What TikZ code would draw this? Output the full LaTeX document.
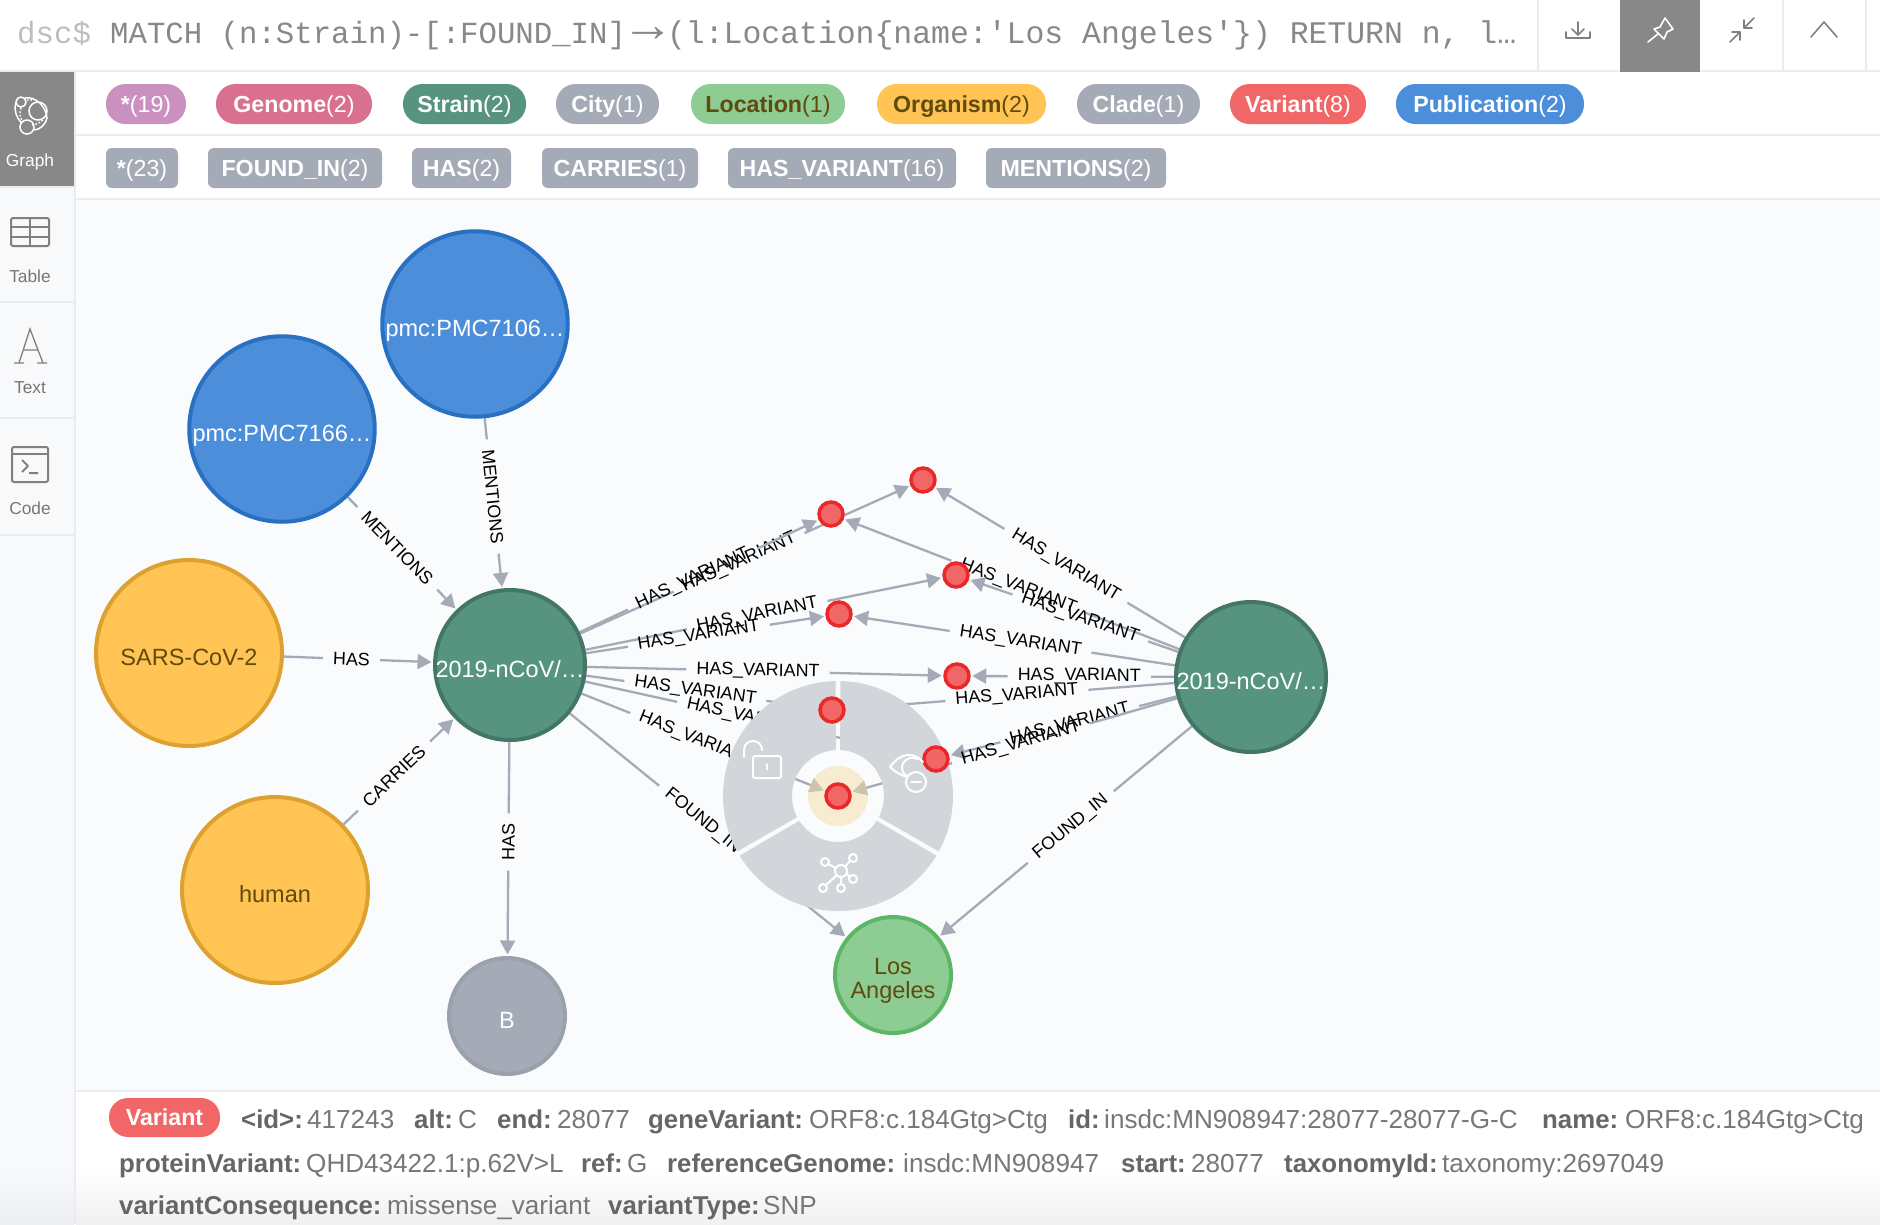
\documentclass[tikz,border=0pt]{standalone}
\usepackage{fontspec}
\setmainfont{Liberation Sans}
\newfontfamily\monof{Liberation Mono}
\usetikzlibrary{arrows.meta}
\pgfdeclarelayer{panel}
\pgfdeclarelayer{edgelayer}
\pgfdeclarelayer{menulayer}
\pgfsetlayers{panel,edgelayer,menulayer,main}
\definecolor{pane}{HTML}{FAFBFD}
\definecolor{rule}{HTML}{E9ECF1}
\definecolor{side}{HTML}{F8F9FB}
\definecolor{sideend}{HTML}{EDEEF1}
\definecolor{panelend}{HTML}{F0F0F0}
\definecolor{active}{HTML}{888888}
\definecolor{prompttext}{HTML}{BDBEC3}
\definecolor{querytext}{HTML}{888888}
\definecolor{highlight}{HTML}{F5DEA5}
\definecolor{edgegrey}{HTML}{A5ABB6}
\definecolor{greystroke}{HTML}{9AA1AC}
\definecolor{pubfill}{HTML}{4C8EDA}
\definecolor{pubstroke}{HTML}{2870C2}
\definecolor{strainfill}{HTML}{569480}
\definecolor{strainstroke}{HTML}{447666}
\definecolor{orgfill}{HTML}{FFC454}
\definecolor{orgstroke}{HTML}{DCA12E}
\definecolor{locfill}{HTML}{8DCC93}
\definecolor{locstroke}{HTML}{5DB665}
\definecolor{varfill}{HTML}{F16667}
\definecolor{varstroke}{HTML}{EB2728}
\definecolor{browntext}{HTML}{604A0E}
\definecolor{anyfill}{HTML}{C990C0}
\definecolor{genomefill}{HTML}{D9708F}
\definecolor{menugrey}{HTML}{D2D5DA}
\definecolor{valtext}{HTML}{777777}
\definecolor{keytext}{HTML}{666666}
\definecolor{iconshade}{HTML}{808080}
\newcommand{\fs}[1]{\fontsize{#1}{#1}\selectfont}
\tikzset{
  bignode/.style={circle,inner sep=0pt,line width=4pt,font=\fs{23.5},text height=24pt,text depth=0pt},
  pubnode/.style={bignode,minimum size=185.5pt,fill=pubfill,draw=pubstroke,text=white},
  orgnode/.style={bignode,minimum size=186pt,fill=orgfill,draw=orgstroke,text=browntext},
  strainnode/.style={bignode,minimum size=150pt,fill=strainfill,draw=strainstroke,text=white},
  smallnode/.style={bignode,minimum size=116pt},
  varnode/.style={circle,inner sep=0pt,minimum size=24pt,line width=3.5pt,fill=varfill,draw=varstroke},
  edgelab/.style={inner xsep=10pt,inner ysep=1pt,font=\fs{17.9},text=black},
  edgeline/.style={draw=edgegrey,line width=2.3pt},
  arrowend/.style={-{Triangle[length=14pt,width=15pt,color=edgegrey]},shorten >=1.5pt},
  pillbase/.style={inner sep=0pt,minimum height=40pt,font=\fs{23.2},text height=17pt,text depth=0pt},
  labelpill/.style={pillbase,rounded corners=19.5pt},
  typepill/.style={pillbase,rounded corners=6pt,fill=edgegrey,text=white},
  menuicon/.style={draw=white,line width=2pt,line cap=round,line join=round},
  sideicon/.style={draw=iconshade,line width=2pt,line join=round},
  topicon/.style={draw=iconshade,line width=1.6pt,line cap=round,line join=round},
  sidetext/.style={inner sep=0pt,font=\fs{17.3},text=valtext},
  kvtext/.style={inner sep=0pt,anchor=base west}
}
\newcommand{\relation}[5]{%
  \path (#1) -- node[edgelab,sloped,pos=#3] (#5) {#4} (#2);
  \draw[edgeline] (#1) -- (#5);
  \draw[edgeline,arrowend] (#5) -- (#2);
}
\newcommand{\pill}[8]{% style, name, x1, x2, y, colours, bold, count
  \node[#1,#6,minimum width={(#4-#3)*1pt}] (#2) at ({(#3+#4)/2},#5) {\textbf{#7}#8};
}
\newcommand{\kv}[6]{% name, keyx, valx, y, key, value
  \node[kvtext,font=\fs{25.8},text=keytext] (#1k) at (#2,#4) {\textbf{#5}};
  \node[kvtext,font=\fs{26.1},text=valtext] (#1v) at (#3,#4) {#6};
}
\begin{document}
\begin{tikzpicture}[x=1pt,y=-1pt]
\useasboundingbox (0,0) rectangle (1880,1224);
\begin{pgfonlayer}{panel}
  \fill[white] (0,0) rectangle (1880,1224);
  \fill[pane] (76,199) rectangle (1880,1091);
  \fill[side] (0,72) rectangle (74,1170);
  \shade[top color=side,bottom color=sideend] (0,1170) rectangle (74,1224);
  \shade[top color=white,bottom color=panelend] (76,1170) rectangle (1880,1224);
  \fill[rule] (0,70) rectangle (1880,72);
  \fill[rule] (76,134) rectangle (1880,136);
  \fill[rule] (76,198) rectangle (1880,200);
  \fill[rule] (76,1090) rectangle (1880,1092);
  \fill[rule] (74,72) rectangle (76,1224);
  \fill[rule] (0,186) rectangle (74,188);
  \fill[rule] (0,301) rectangle (74,303);
  \fill[rule] (0,417) rectangle (74,419);
  \fill[rule] (0,534) rectangle (74,536);
  \fill[active] (0,72) rectangle (74,186);
  \fill[rule] (1537,0) rectangle (1539,70);
  \fill[rule] (1782,0) rectangle (1784,70);
  \fill[rule] (1865,0) rectangle (1867,70);
  \fill[active] (1620,0) rectangle (1700,72);
\end{pgfonlayer}

% query bar
\node[inner sep=0pt,anchor=base west,font=\monof\fs{30.8},text=prompttext] (prompt) at (17,43) {dsc\$};
\node[inner sep=0pt,anchor=base west,font=\monof\fs{30.7},text=querytext] (query) at (110,43)
  {MATCH (n:Strain)-[:FOUND\_IN]\makebox[41pt]{\hspace{3pt}\raisebox{2pt}{\scalebox{1.7}[1.6]{→}}}{\fs{31.45}(l:Location\{name:'Los Angeles'\}) RETURN n, l…}};

% top icons
\draw[topicon] (1578,22) -- (1578,35) (1572,29) -- (1578,35) -- (1584,29) (1566,32) -- (1566,38) -- (1590,38) -- (1590,32);
\draw[draw=white,line width=1.6pt,line join=round,line cap=round] (1665,18) -- (1673,29) -- (1667,32) -- (1664,39) -- (1654,29) -- (1660,27) -- cycle (1658,34) -- (1648,42);
\draw[topicon] (1754,18) -- (1744,28) (1744,20) -- (1744,28) -- (1752,28) (1730,42) -- (1740,32) (1732,32) -- (1740,32) -- (1740,40);
\draw[topicon] (1811,37) -- (1824,22) -- (1837,37);

% sidebar
\node[sidetext,text=white] (tabgraph) at (30,162) {Graph};
\node[sidetext] (tabtable) at (30,276) {Table};
\node[sidetext] (tabtext) at (30,388) {Text};
\node[sidetext] (tabcode) at (30,508) {Code};
\draw[draw=white,line width=1.5pt] (38,111) circle[radius=9] (21,102) circle[radius=5] (27,127) circle[radius=7];
\draw[draw=white,line width=1.5pt] (25,98) .. controls (35,96) and (46,106) .. (47,118) .. controls (46,124) and (40,130) .. (34,130)
  (22,123) .. controls (16,118) and (13,108) .. (17,100);
\draw[draw=white,line width=1.5pt,dotted] (21,108) .. controls (19,114) and (20,118) .. (23,121) (27,100) .. controls (30,99) and (32,100) .. (33,101) (32,125) .. controls (38,124) and (41,122) .. (44,119);
\draw[sideicon,rounded corners=2pt] (11,218) rectangle (49,246);
\draw[sideicon] (11,227) -- (49,227) (11,237) -- (49,237) (30,218) -- (30,246);
\draw[draw=iconshade,line width=1.3pt] (19,363) -- (30,329) -- (43,363) (23,350) -- (38,350) (14,363) -- (24,363) (37,363) -- (47,363);
\draw[sideicon,rounded corners=2pt] (12,447) rectangle (48,482);
\draw[sideicon] (12,454) -- (48,454);
\draw[sideicon] (22,460) -- (28,466) -- (22,472) (29,473) -- (38,473);

% filter pills
\pill{labelpill}{pAny}{106}{186}{104}{fill=anyfill,text=white}{*}{(19)}
\pill{labelpill}{pGenome}{216}{372}{104}{fill=genomefill,text=white}{Genome}{(2)}
\pill{labelpill}{pStrain}{403}{526}{104}{fill=strainfill,text=white}{Strain}{(2)}
\pill{labelpill}{pCity}{556}{659}{104}{fill=edgegrey,text=white}{City}{(1)}
\pill{labelpill}{pLocation}{691}{845}{104}{fill=locfill,text=browntext}{Location}{(1)}
\pill{labelpill}{pOrganism}{877}{1046}{104}{fill=orgfill,text=browntext}{Organism}{(2)}
\pill{labelpill}{pClade}{1077}{1200}{104}{fill=edgegrey,text=white}{Clade}{(1)}
\pill{labelpill}{pVariant}{1230}{1366}{104}{fill=varfill,text=white}{Variant}{(8)}
\pill{labelpill}{pPub}{1396}{1584}{104}{fill=pubfill,text=white}{Publication}{(2)}
\pill{typepill}{tAny}{106}{178}{168}{}{*}{(23)}
\pill{typepill}{tFound}{208}{382}{168}{}{FOUND\_IN}{(2)}
\pill{typepill}{tHas}{412}{511}{168}{}{HAS}{(2)}
\pill{typepill}{tCarries}{542}{698}{168}{}{CARRIES}{(1)}
\pill{typepill}{tVariant}{728}{956}{168}{}{HAS\_VARIANT}{(16)}
\pill{typepill}{tMentions}{986}{1166}{168}{}{MENTIONS}{(2)}

% graph nodes
\node[pubnode] (pmcA) at (475,324) {\makebox[0pt][c]{pmc:PMC7106…}};
\node[pubnode] (pmcB) at (282,429) {\makebox[0pt][c]{pmc:PMC7166…}};
\node[orgnode] (sars) at (189,653) {SARS-CoV-2};
\node[orgnode] (human) at (275,890) {human};
\node[strainnode] (strainL) at (510,665) {\makebox[0pt][c]{2019-nCoV/…}};
\node[strainnode] (strainR) at (1251,677) {\makebox[0pt][c]{2019-nCoV/…}};
\node[smallnode,fill=edgegrey,draw=greystroke,text=white] (clade) at (507,1016) {B};
\node[circle,inner sep=0pt,line width=4pt,font=\fs{23.5},minimum size=116pt,fill=locfill,draw=locstroke,text=browntext] (la) at (893,975) {\raisebox{-23pt}[0pt][0pt]{\shortstack{Los\\[3pt]Angeles}}};
\node[varnode] (v1) at (923,480) {};
\node[varnode] (v2) at (831,514) {};
\node[varnode] (v3) at (956,575) {};
\node[varnode] (v4) at (839,614) {};
\node[varnode] (v5) at (957,676) {};
\node[varnode] (v6) at (832,710) {};
\node[varnode] (v7) at (936,759) {};
\node[varnode] (v8) at (838,796) {};

% relationships
\begin{pgfonlayer}{edgelayer}
  \relation{pmcA}{strainL}{.46}{MENTIONS}{e1}
  \relation{pmcB}{strainL}{.455}{MENTIONS}{e2}
  \relation{sars}{strainL}{.453}{HAS}{e3}
  \relation{human}{strainL}{.455}{CARRIES}{e4}
  \relation{strainL}{clade}{.467}{HAS}{e5}
  \relation{strainL}{la}{.48}{FOUND\_IN}{e6}
  \relation{strainR}{la}{.479}{FOUND\_IN}{e7}
  \relation{strainL}{v1}{.481}{HAS\_VARIANT}{l1}
  \relation{strainL}{v2}{.473}{HAS\_VARIANT}{l2}
  \relation{strainL}{v3}{.481}{HAS\_VARIANT}{l3}
  \relation{strainL}{v4}{.471}{HAS\_VARIANT}{l4}
  \relation{strainL}{v5}{.48}{HAS\_VARIANT}{l5}
  \relation{strainL}{v6}{.47}{HAS\_VARIANT}{l6}
  \relation{strainL}{v7}{.48}{HAS\_VARIANT}{l7}
  \relation{strainL}{v8}{.473}{HAS\_VARIANT}{l8}
  \relation{strainR}{v1}{.476}{HAS\_VARIANT}{r1}
  \relation{strainR}{v2}{.48}{HAS\_VARIANT}{r2}
  \relation{strainR}{v3}{.468}{HAS\_VARIANT}{r3}
  \relation{strainR}{v4}{.479}{HAS\_VARIANT}{r4}
  \relation{strainR}{v5}{.466}{HAS\_VARIANT}{r5}
  \relation{strainR}{v6}{.479}{HAS\_VARIANT}{r6}
  \relation{strainR}{v7}{.47}{HAS\_VARIANT}{r7}
  \relation{strainR}{v8}{.479}{HAS\_VARIANT}{r8}
\end{pgfonlayer}

% radial menu
\begin{pgfonlayer}{menulayer}
  \begin{scope}[shift={(838,796)},x=1pt,y=1pt]
    \fill[menugrey] (91.2:115) arc[start angle=91.2,end angle=208.8,radius=115] -- (207.4:46) arc[start angle=207.4,end angle=92.6,radius=46] -- cycle;
    \fill[menugrey] (211.2:115) arc[start angle=211.2,end angle=328.8,radius=115] -- (327.4:46) arc[start angle=327.4,end angle=212.6,radius=46] -- cycle;
    \fill[menugrey] (331.2:115) arc[start angle=331.2,end angle=448.8,radius=115] -- (447.4:46) arc[start angle=447.4,end angle=332.6,radius=46] -- cycle;
    \fill[highlight,opacity=.5] (0,0) circle[radius=30];
  \end{scope}
\end{pgfonlayer}

% menu icons
\draw[menuicon,rounded corners=2pt] (753,756) rectangle (781,778);
\draw[menuicon] (767,764) -- (767,769);
\draw[menuicon] (744,757) -- (744,750) .. controls (744,738) and (762,738) .. (762,750);
\draw[menuicon] (923,762) .. controls (913,751) and (900,753) .. (890,767) .. controls (895,772) and (901,775) .. (907,777);
\draw[menuicon] (917,759) .. controls (909,755) and (901,762) .. (902,769) .. controls (903,773) and (905,775) .. (907,776);
\draw[menuicon] (916,782) circle[radius=10];
\draw[menuicon] (911,782) -- (921,782);
\draw[menuicon] (841,871) circle[radius=6];
\draw[menuicon] (825,862) circle[radius=4] (853,858) circle[radius=4] (853,879) circle[radius=4] (841,888) circle[radius=4] (823,888) circle[radius=4];
\draw[menuicon] (836,868) -- (828,864) (845,867) -- (850,861) (847,873) -- (849,877) (841,877) -- (841,884) (837,875) -- (826,885);

% inspector
\node[inner sep=0pt,fill=varfill,text=white,rounded corners=19pt,minimum width=111pt,minimum height=39pt,font=\fs{23.2}] (vpill) at (164.5,1117.5) {\textbf{Variant}};
\kv{a}{241}{307}{1128}{<id>:}{417243}
\kv{b}{414}{458}{1128}{alt:}{C}
\kv{c}{497}{557}{1128}{end:}{28077}
\kv{d}{648}{809}{1128}{geneVariant:}{ORF8:c.184Gtg>Ctg}
\kv{e}{1068}{1104}{1128}{id:}{insdc:MN908947:28077-28077-G-C}
\kv{f}{1542}{1625}{1128}{name:}{ORF8:c.184Gtg>Ctg}
\kv{g}{119}{306}{1172}{proteinVariant:}{QHD43422.1:p.62V>L}
\kv{h}{581}{627}{1172}{ref:}{G}
\kv{i}{667}{903}{1172}{referenceGenome:}{insdc:MN908947}
\kv{j}{1121}{1191}{1172}{start:}{28077}
\kv{k}{1284}{1442}{1172}{taxonomyId:}{taxonomy:2697049}
\kv{m}{119}{387}{1214}{variantConsequence:}{missense\_variant}
\kv{n}{608}{763}{1214}{variantType:}{SNP}
\end{tikzpicture}
\end{document}
